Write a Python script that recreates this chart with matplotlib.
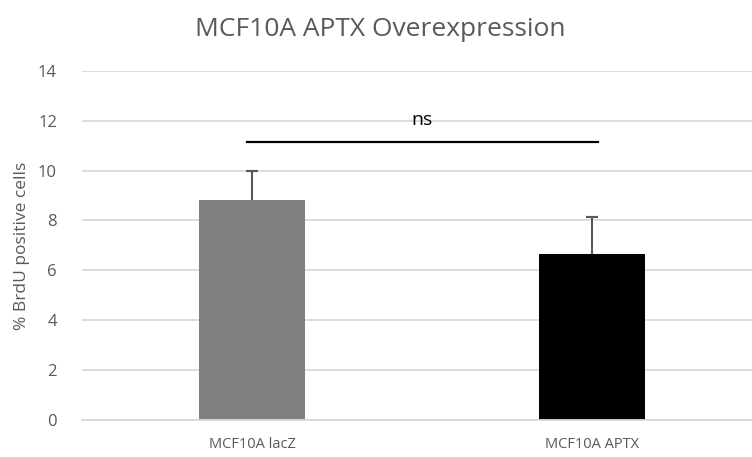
import matplotlib.pyplot as plt
import numpy as np

plt.rcParams['font.family'] = ['Open Sans', 'DejaVu Sans']

categories = ['MCF10A lacZ', 'MCF10A APTX']
values = [8.84, 6.66]
errors = [1.16, 1.46]
bar_colors = ['#7f7f7f', '#000000']
sig_y = 11.15
sig_label = 'ns'

grey = '#595959'

fig = plt.figure(figsize=(7.52, 4.57), dpi=100)
ax = fig.add_axes([0.109, 0.081, 0.891, 0.764])

x = np.arange(len(categories))
ax.bar(x, values, width=0.31, color=bar_colors, zorder=2)
# upper error bars only, cap on top
tops = np.array(values) + np.array(errors)
ax.vlines(x, values, tops, color=grey, lw=1.5, zorder=3)
ax.errorbar(x, tops, yerr=0, fmt='none', ecolor=grey, capsize=4, capthick=1.5, zorder=3)

# significance bar between groups
ax.plot([-0.015, 1.018], [sig_y, sig_y], color='black', lw=1.6, zorder=3)
ax.text(0.5, sig_y + 0.5, sig_label, ha='center', va='bottom', fontsize=14, color='black')

ax.set_xlim(-0.5, 1.47)
ax.set_ylim(0, 14)
ax.set_yticks(np.arange(0, 15, 2))
ax.yaxis.grid(True, color='#d9d9d9', lw=1.3, zorder=0)
ax.set_axisbelow(True)
for s in ['top', 'right', 'left']:
    ax.spines[s].set_visible(False)
ax.spines['bottom'].set_color('#d9d9d9')
ax.spines['bottom'].set_linewidth(1.3)
ax.tick_params(length=0, colors=grey)
ax.tick_params(axis='y', labelsize=12, pad=18)
ax.set_xticks(x)
ax.set_xticklabels(categories, fontsize=10.5)
ax.tick_params(axis='x', pad=12)

ax.set_ylabel('% BrdU positive cells', color=grey, fontsize=12.5, labelpad=6)
fig.suptitle('MCF10A APTX Overexpression', color=grey, fontsize=19, x=0.505, y=0.962)

fig.savefig('out.png', dpi=100)
